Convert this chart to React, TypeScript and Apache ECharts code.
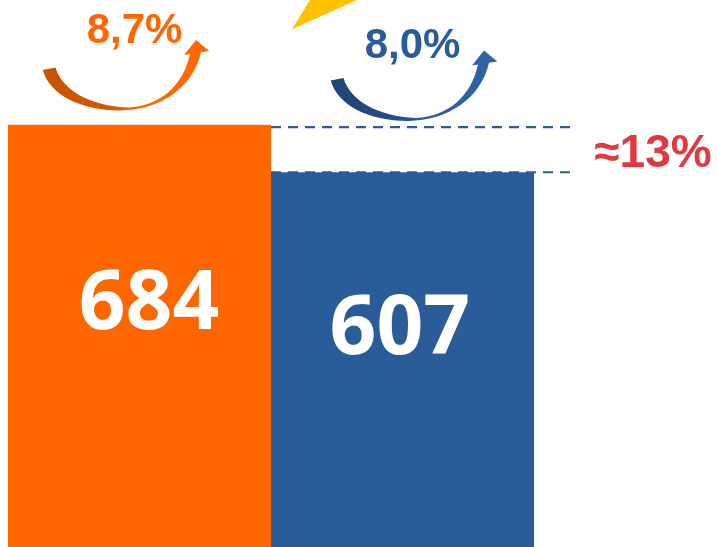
import React, { useEffect, useRef } from "react";
import * as echarts from "echarts";

const categories = ["Bar 1", "Bar 2"];
const values = [684, 607];
const growthLabels = ["8,7%", "8,0%"];
const diffLabel = "≈13%";

const barColors = ["#FF6600", "#2A5C99"];
const labelPositions: any[] = [["53.6%", 172], ["49%", 150]];

const arrowPath =
  "M42.7 70 C50 95 80 110 120 110.5 C160 110 193 88 201 52.3 L209.3 51 L196 40 L184 55 L190 54 C183 86 160 106 128 107.5 C90 106 62 90 55.5 67.5 Z";

let registered = false;
function ensureShape() {
  if (registered) return;
  echarts.graphic.registerShape("curveArrow", echarts.graphic.extendPath(arrowPath, {}) as any);
  registered = true;
}

export default function App() {
  const ref = useRef<HTMLDivElement>(null);
  useEffect(() => {
    if (!ref.current) return;
    ensureShape();
    const chart = echarts.init(ref.current, undefined, { renderer: "svg" });
    chart.setOption({
      animation: false,
      grid: { left: 8, right: 183, top: 0, bottom: 0 },
      xAxis: { type: "category", data: categories, show: false },
      yAxis: { type: "value", min: 0, max: 886, show: false },
      series: [
        {
          type: "bar",
          barCategoryGap: 0,
          data: values.map((v, i) => ({
            value: v,
            itemStyle: { color: barColors[i] },
            label: { position: labelPositions[i] },
          })),
          label: {
            show: true,
            color: "#FFFFFF",
            fontFamily: '"Open Sans", "Liberation Sans", sans-serif',
            fontWeight: "bold",
            fontSize: 82,
            align: "center",
            verticalAlign: "middle",
          },
        },
      ],
    });

    const c0 = chart.convertToPixel({ xAxisIndex: 0 }, categories[0]) as number;
    const c1 = chart.convertToPixel({ xAxisIndex: 0 }, categories[1]) as number;
    const boundary = (c0 + c1) / 2;
    const yTop0 = chart.convertToPixel({ yAxisIndex: 0 }, values[0]) as number;
    const yTop1 = chart.convertToPixel({ yAxisIndex: 0 }, values[1]) as number;
    const lineEnd = 572;
    const dashStyle = { stroke: "#2B5C9C", lineWidth: 2.2, lineDash: [10, 7] };
    const pctFont = { fontFamily: '"Liberation Sans", Arial, sans-serif', fontWeight: "bold" };

    chart.setOption({
      graphic: [
        {
          type: "polygon",
          shape: { points: [[310, 0], [357, 0], [292, 29.3]] },
          style: { fill: "#FFC000" },
        },
        {
          type: "curveArrow",
          x: 0,
          y: 0,
          style: {
            fill: {
              type: "linear", x: 0, y: 0, x2: 1, y2: 0,
              colorStops: [
                { offset: 0, color: "#C55300" },
                { offset: 0.42, color: "#D45A00" },
                { offset: 0.55, color: "#FF6600" },
                { offset: 1, color: "#FF6A00" },
              ],
            },
          },
        },
        {
          type: "curveArrow",
          x: 288,
          y: 10.5,
          style: {
            fill: {
              type: "linear", x: 0, y: 0, x2: 1, y2: 0,
              colorStops: [
                { offset: 0, color: "#1F4577" },
                { offset: 0.42, color: "#244E86" },
                { offset: 0.55, color: "#2B5E9F" },
                { offset: 1, color: "#2E63A6" },
              ],
            },
          },
        },
        {
          type: "text",
          x: 134.5,
          y: 28.5,
          style: {
            text: growthLabels[0], fill: "#FF6600", fontSize: 42, ...pctFont,
            align: "center", verticalAlign: "middle",
          },
        },
        {
          type: "text",
          x: 412.5,
          y: 43.5,
          style: {
            text: growthLabels[1], fill: "#2A5C99", fontSize: 42, ...pctFont,
            align: "center", verticalAlign: "middle",
          },
        },
        {
          type: "line",
          shape: { x1: boundary, y1: yTop0 + 2.5, x2: lineEnd, y2: yTop0 + 2.5 },
          style: dashStyle,
        },
        {
          type: "line",
          shape: { x1: boundary, y1: yTop1, x2: lineEnd, y2: yTop1 },
          style: dashStyle,
        },
        {
          type: "text",
          x: 653,
          y: 151,
          style: {
            text: diffLabel, fill: "#E0393E", fontSize: 46, ...pctFont,
            align: "center", verticalAlign: "middle",
          },
        },
      ],
    });
    return () => chart.dispose();
  }, []);
  return (
    <div
      ref={ref}
      style={{ position: "fixed", left: 0, top: 0, width: 717, height: 547 }}
    />
  );
}
